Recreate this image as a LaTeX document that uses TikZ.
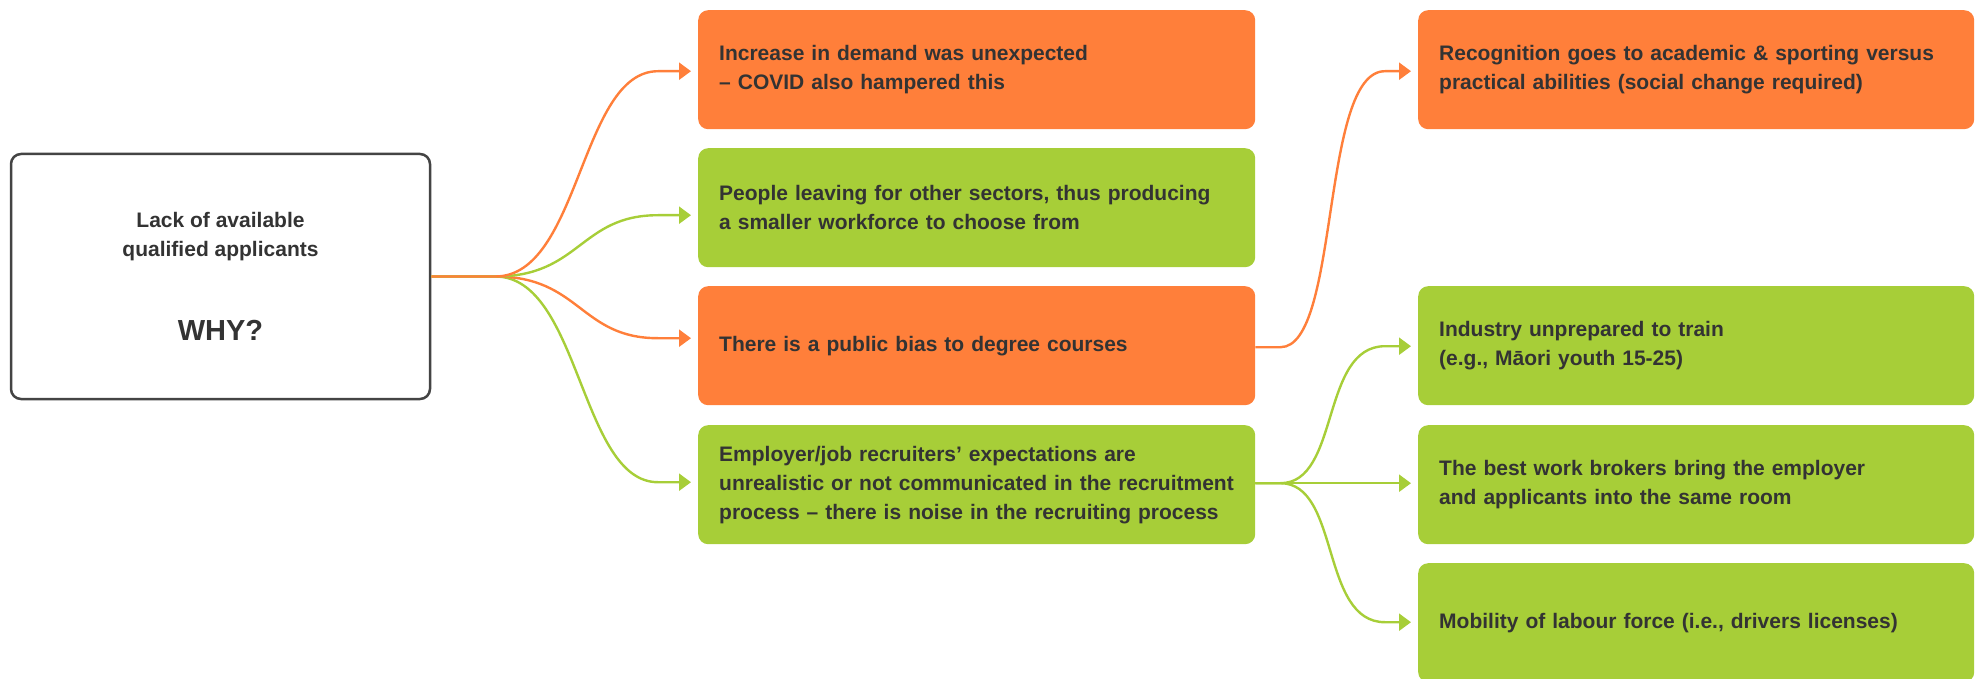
\documentclass[tikz,border=0pt]{standalone}
\usepackage{fontspec}
\setmainfont{Liberation Sans}
\usetikzlibrary{arrows.meta,calc}
\definecolor{org}{HTML}{FF7F3A}
\definecolor{grn}{HTML}{A7CE38}
\definecolor{txt}{HTML}{333333}
\definecolor{bord}{HTML}{444444}
\begin{document}
\begin{tikzpicture}[x=1pt,y=-1pt,
  box/.style={rounded corners=10pt, text width=515pt, inner xsep=21pt, inner ysep=0pt,
    minimum height=119pt, align=left, anchor=north west,
    font=\fontsize{21pt}{29pt}\selectfont\bfseries, text=txt},
  obox/.style={box, fill=org},
  gbox/.style={box, fill=grn},
  conn/.style={line width=2.4pt, -{Triangle[length=12pt,width=17pt]}, shorten >=7pt},
  oconn/.style={conn, draw=org},
  gconn/.style={conn, draw=grn},
]
\useasboundingbox (0,0) rectangle (1978,679);

\node[draw=bord, line width=2.5pt, rounded corners=10pt, fill=white,
  minimum width=419pt, minimum height=245pt, inner sep=0pt, align=center,
  font=\fontsize{21pt}{29pt}\selectfont\bfseries, text=txt]
  (root) at (220.5,276.5)
  {Lack of available\\qualified applicants\\[55pt]{\fontsize{29pt}{34pt}\selectfont WHY?}};

\node[obox] (m1) at (698,10) {Increase in demand was unexpected\\– COVID also hampered this};
\node[gbox] (m2) at (698,148) {People leaving for other sectors, thus producing\\a smaller workforce to choose from};
\node[obox] (m3) at (698,286) {There is a public bias to degree courses};
\node[gbox] (m4) at (698,425) {Employer/job recruiters’ expectations are\\unrealistic or not communicated in the recruitment\\process – there is noise in the recruiting process};

\node[obox, text width=514pt] (r1) at (1418,10) {Recognition goes to academic \& sporting versus\\practical abilities (social change required)};
\node[gbox, text width=514pt] (r2) at (1418,286) {Industry unprepared to train\\(e.g., Māori youth 15-25)};
\node[gbox, text width=514pt] (r3) at (1418,425) {The best work brokers bring the employer\\and applicants into the same room};
\node[gbox, text width=514pt] (r4) at (1418,563) {Mobility of labour force (i.e., drivers licenses)};

% root fan
\draw[gconn] (root.east) -- ++(64,0) .. controls +(85,0) and +(-78,0) .. ($(m4.west)+(-40,-2.5)$) -- ($(m4.west)+(0,-2.5)$);
\draw[oconn] (root.east) -- ++(64,0) .. controls +(85,0) and +(-78,0) .. ($(m3.west)+(-40,-7.5)$) -- ($(m3.west)+(0,-7.5)$);
\draw[gconn] (root.east) -- ++(64,0) .. controls +(85,0) and +(-78,0) .. ($(m2.west)+(-40,7.5)$) -- ($(m2.west)+(0,7.5)$);
\draw[oconn] (root.east) -- ++(64,0) .. controls +(85,0) and +(-78,0) .. ($(m1.west)+(-40,1.5)$) -- ($(m1.west)+(0,1.5)$);

% right side
\draw[oconn] ($(m3.east)+(0,1.5)$) -- ++(25,0) .. controls +(60,0) and +(-65,0) .. ($(r1.west)+(-33,1.5)$) -- ($(r1.west)+(0,1.5)$);
\draw[gconn] ($(m4.east)+(0,-1.5)$) -- ++(25,0) .. controls +(60,0) and +(-65,0) .. ($(r2.west)+(-33,0.5)$) -- ($(r2.west)+(0,0.5)$);
\draw[gconn] ($(m4.east)+(0,-1.5)$) -- ($(r3.west)+(0,-1.5)$);
\draw[gconn] ($(m4.east)+(0,-1.5)$) -- ++(25,0) .. controls +(60,0) and +(-65,0) .. ($(r4.west)+(-33,-0.5)$) -- ($(r4.west)+(0,-0.5)$);
\end{tikzpicture}
\end{document}
